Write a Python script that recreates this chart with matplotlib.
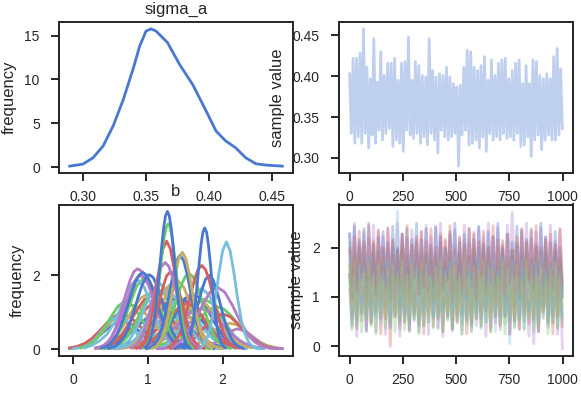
import numpy as np
import matplotlib
matplotlib.use("Agg")
import matplotlib.pyplot as plt

plt.rcParams['font.family'] = ['Liberation Sans', 'DejaVu Sans']
plt.rcParams['text.color'] = '0.15'
plt.rcParams['axes.labelcolor'] = '0.15'
plt.rcParams['xtick.color'] = '0.15'
plt.rcParams['ytick.color'] = '0.15'

BLUE, GREEN, RED, PURPLE, YELLOW, CYAN = "#4878CF", "#6ACC65", "#D65F5F", "#B47CC7", "#C4AD66", "#77BEDB"

# ---------------- sigma_a ----------------
sigma_a_kde_x = [0.2895, 0.300, 0.308, 0.316, 0.324, 0.332, 0.340, 0.345, 0.350, 0.354, 0.358,
                 0.367, 0.3766, 0.387, 0.3976, 0.4055, 0.413, 0.421, 0.429, 0.437, 0.445, 0.458]
sigma_a_kde_y = [0.11, 0.34, 1.06, 2.4, 4.7, 7.7, 11.3, 13.8, 15.5, 15.76, 15.5,
                 14.2, 11.7, 9.4, 6.4, 4.1, 3.0, 2.2, 1.06, 0.38, 0.23, 0.11]

sigma_a_trace_hi = [.403, .422, .422, .428, .458, .411, .397, .446, .393, .430, .401, .416, .416, .422,
                    .395, .416, .418, .448, .395, .418, .413, .401, .399, .446, .407, .399, .403, .401,
                    .411, .399, .391, .387, .389, .411, .432, .430, .411, .407, .413, .424, .395, .420,
                    .401, .416, .420, .422, .397, .407, .416, .420, .391, .413, .391, .420, .418, .401,
                    .397, .403, .397, .424, .434, .409]
sigma_a_trace_lo = [.330, .318, .326, .318, .330, .312, .328, .318, .334, .322, .330, .336, .314, .322,
                    .318, .308, .334, .328, .324, .330, .318, .326, .316, .330, .322, .306, .334, .326,
                    .322, .326, .330, .290, .328, .334, .316, .318, .322, .312, .326, .308, .330, .322,
                    .326, .322, .330, .324, .326, .322, .330, .314, .316, .326, .302, .322, .328, .310,
                    .322, .328, .322, .322, .328, .336]

sigma_a_xticks = [0.30, 0.35, 0.40, 0.45]
sigma_a_yticks = [0, 5, 10, 15]
trace_xticks = [0, 250, 500, 750, 1000]
sigma_a_trace_yticks = [0.30, 0.35, 0.40, 0.45]
n_samples = 1000

# ---------------- b : KDE curves (drawn in this order) ----------------
b_kde_colors = [PURPLE, CYAN, BLUE, PURPLE, YELLOW, BLUE, RED, CYAN, YELLOW, RED,
                RED, YELLOW, GREEN, BLUE, CYAN, PURPLE,
                GREEN, RED, GREEN, CYAN, YELLOW, BLUE, GREEN, CYAN, YELLOW, PURPLE, RED, GREEN, CYAN,
                YELLOW, RED, CYAN, PURPLE, PURPLE, BLUE, BLUE, GREEN, RED, PURPLE, BLUE, RED, BLUE,
                YELLOW, CYAN, BLUE, PURPLE, RED, GREEN, BLUE]
b_kde_start = [0.35, 0.55, 0.3, 0.5, 1.4, -0.05, 0.68, 0.58, -0.02, -0.05,
               0.35, 0.3, 1.05, 0.6, 0.0, 1.6,
               0.1, 0.35, 0.42, 0.55, 0.6, 0.9, 1.12, 1.12, 0.98, 0.9, 1.3, 0.35, 0.55,
               0.78, 0.82, 0.15, 0.31, 0.3, 0.38, 0.47, 1.0, 0.85, 1.13, 1.37, 1.27, 0.98,
               1.06, 1.65, 1.485, 0.78, 0.85, 0.945, 0.96]
b_kde_step = [0.1, 0.1, 0.1, 0.1, 0.1, 0.1, 0.1, 0.1, 0.1, 0.1,
              0.1, 0.1, 0.1, 0.1, 0.1, 0.1,
              0.1, 0.1, 0.1, 0.1, 0.1, 0.1, 0.1, 0.1, 0.1, 0.1, 0.1, 0.1, 0.1,
              0.1, 0.1, 0.1, 0.05, 0.05, 0.05, 0.05, 0.05, 0.05, 0.1, 0.05, 0.05, 0.05,
              0.05, 0.05, 0.025, 0.05, 0.05, 0.025, 0.025]
b_kde_values = [
    [0.02, 0.03, 0.06, 0.10, 0.16, 0.24, 0.34, 0.46, 0.57, 0.66, 0.73, 0.75, 0.73, 0.66, 0.57, 0.46, 0.34, 0.24, 0.16, 0.10, 0.06, 0.03, 0.02],
    [0.01, 0.03, 0.06, 0.11, 0.20, 0.31, 0.44, 0.59, 0.72, 0.82, 0.85, 0.82, 0.72, 0.59, 0.44, 0.31, 0.20, 0.11, 0.06, 0.03, 0.01],
    [0.03, 0.06, 0.11, 0.20, 0.33, 0.50, 0.69, 0.87, 1.0, 1.05, 1.0, 0.87, 0.69, 0.50, 0.33, 0.20, 0.11, 0.06, 0.03],
    [0.02, 0.04, 0.09, 0.17, 0.30, 0.46, 0.65, 0.82, 0.95, 1.0, 0.95, 0.82, 0.65, 0.46, 0.30, 0.17, 0.09, 0.04, 0.02],
    [0.01, 0.04, 0.09, 0.19, 0.34, 0.51, 0.65, 0.7, 0.65, 0.51, 0.34, 0.19, 0.09, 0.04, 0.01],
    [0.02, 0.05, 0.10, 0.21, 0.37, 0.54, 0.69, 0.75, 0.69, 0.54, 0.37, 0.21, 0.10, 0.05, 0.02],
    [0.03, 0.07, 0.15, 0.27, 0.45, 0.67, 0.88, 1.04, 1.10, 1.04, 0.88, 0.67, 0.45, 0.27, 0.15, 0.07, 0.03],
    [0.02, 0.06, 0.13, 0.26, 0.47, 0.73, 1.01, 1.22, 1.30, 1.22, 1.01, 0.73, 0.47, 0.26, 0.13, 0.06, 0.02],
    [0.02, 0.05, 0.12, 0.24, 0.43, 0.68, 0.93, 1.13, 1.20, 1.13, 0.93, 0.68, 0.43, 0.24, 0.12, 0.05, 0.02],
    [0.03, 0.07, 0.15, 0.29, 0.49, 0.71, 0.88, 0.95, 0.88, 0.71, 0.49, 0.29, 0.15, 0.07, 0.03],
    [0.04, 0.09, 0.18, 0.32, 0.53, 0.79, 1.04, 1.23, 1.3, 1.23, 1.04, 0.79, 0.53, 0.32, 0.18, 0.09, 0.04],
    [0.03, 0.08, 0.20, 0.42, 0.73, 1.09, 1.38, 1.5, 1.38, 1.09, 0.73, 0.42, 0.20, 0.08, 0.03],
    [0.03, 0.08, 0.18, 0.38, 0.66, 0.98, 1.25, 1.35, 1.25, 0.98, 0.66, 0.38, 0.18, 0.08, 0.03],
    [0.04, 0.09, 0.19, 0.35, 0.58, 0.85, 1.12, 1.32, 1.4, 1.32, 1.12, 0.85, 0.58, 0.35, 0.19, 0.09, 0.04],
    [0.01, 0.04, 0.12, 0.29, 0.55, 0.79, 0.9, 0.79, 0.55, 0.29, 0.12, 0.04, 0.01],
    [0.01, 0.03, 0.07, 0.17, 0.33, 0.48, 0.55, 0.48, 0.33, 0.17, 0.07, 0.03, 0.01],
    [0.03, 0.10, 0.25, 0.51, 0.86, 1.17, 1.3, 1.17, 0.86, 0.51, 0.25, 0.10, 0.03],
    [0.03, 0.08, 0.20, 0.40, 0.71, 1.05, 1.34, 1.45, 1.34, 1.05, 0.71, 0.40, 0.20, 0.08, 0.03],
    [0.01, 0.04, 0.12, 0.32, 0.65, 1.09, 1.49, 1.65, 1.49, 1.09, 0.65, 0.32, 0.12, 0.04, 0.01],
    [0.02, 0.08, 0.24, 0.59, 1.09, 1.59, 1.8, 1.59, 1.09, 0.59, 0.24, 0.08, 0.02],
    [0.01, 0.04, 0.13, 0.34, 0.69, 1.16, 1.58, 1.75, 1.58, 1.16, 0.69, 0.34, 0.13, 0.04, 0.01],
    [0.02, 0.07, 0.17, 0.37, 0.69, 1.06, 1.38, 1.50, 1.38, 1.06, 0.69, 0.37, 0.17, 0.07, 0.02],
    [0.02, 0.05, 0.12, 0.23, 0.41, 0.65, 0.89, 1.08, 1.15, 1.08, 0.89, 0.65, 0.41, 0.23, 0.12, 0.05, 0.02],
    [0.02, 0.07, 0.22, 0.54, 1.0, 1.46, 1.65, 1.46, 1.0, 0.54, 0.22, 0.07, 0.02],
    [0.04, 0.09, 0.20, 0.40, 0.67, 0.97, 1.21, 1.30, 1.21, 0.97, 0.67, 0.40, 0.20, 0.09, 0.04],
    [0.03, 0.07, 0.15, 0.27, 0.45, 0.67, 0.88, 1.04, 1.10, 1.04, 0.88, 0.67, 0.45, 0.27, 0.15, 0.07, 0.03],
    [0.02, 0.05, 0.13, 0.26, 0.46, 0.69, 0.88, 0.95, 0.88, 0.69, 0.46, 0.26, 0.13, 0.05, 0.02],
    [0.02, 0.09, 0.26, 0.63, 1.18, 1.72, 1.95, 1.72, 1.18, 0.63, 0.26, 0.09, 0.02],
    [0.01, 0.04, 0.12, 0.31, 0.63, 1.06, 1.44, 1.6, 1.44, 1.06, 0.63, 0.31, 0.12, 0.04, 0.01],
    [0.02, 0.08, 0.26, 0.62, 1.15, 1.68, 1.9, 1.68, 1.15, 0.62, 0.26, 0.08, 0.02],
    [0.03, 0.07, 0.17, 0.35, 0.61, 0.91, 1.15, 1.25, 1.15, 0.91, 0.61, 0.35, 0.17, 0.07, 0.03],
    [0.03, 0.10, 0.22, 0.40, 0.72, 1.20, 1.68, 1.90, 1.68, 1.15, 0.62, 0.26, 0.08, 0.02],
    [0.02, 0.05, 0.10, 0.19, 0.33, 0.54, 0.83, 1.18, 1.54, 1.87, 2.10, 2.18, 2.12, 2.00, 1.85, 1.60, 1.25, 0.90, 0.60, 0.35, 0.18, 0.08, 0.03],
    [0.02, 0.05, 0.09, 0.17, 0.27, 0.45, 0.65, 0.93, 1.21, 1.50, 1.76, 1.93, 2.0, 1.93, 1.76, 1.50, 1.21, 0.93, 0.65, 0.45, 0.27, 0.17, 0.09, 0.05, 0.02],
    [0.03, 0.06, 0.12, 0.23, 0.38, 0.60, 0.88, 1.20, 1.52, 1.81, 2.01, 2.08, 2.01, 1.81, 1.52, 1.20, 0.88, 0.60, 0.38, 0.23, 0.12, 0.06, 0.03],
    [0.02, 0.04, 0.09, 0.17, 0.31, 0.50, 0.77, 1.09, 1.43, 1.73, 1.94, 2.02, 1.94, 1.73, 1.43, 1.09, 0.77, 0.50, 0.31, 0.17, 0.09, 0.04, 0.02],
    [0.02, 0.04, 0.09, 0.17, 0.31, 0.51, 0.78, 1.11, 1.45, 1.76, 1.97, 2.05, 1.97, 1.76, 1.45, 1.11, 0.78, 0.51, 0.31, 0.17, 0.09, 0.04, 0.02],
    [0.02, 0.06, 0.14, 0.28, 0.52, 0.86, 1.27, 1.68, 1.99, 2.1, 1.99, 1.68, 1.27, 0.86, 0.52, 0.28, 0.14, 0.06, 0.02],
    [0.01, 0.02, 0.07, 0.19, 0.42, 0.77, 1.19, 1.54, 1.68, 1.54, 1.19, 0.77, 0.42, 0.19, 0.07, 0.02, 0.01],
    [0.02, 0.06, 0.13, 0.27, 0.50, 0.82, 1.21, 1.60, 1.89, 2.0, 1.89, 1.60, 1.21, 0.82, 0.50, 0.27, 0.13, 0.06, 0.02],
    [0.04, 0.10, 0.21, 0.39, 0.67, 1.04, 1.46, 1.87, 2.16, 2.27, 2.16, 1.87, 1.46, 1.04, 0.67, 0.39, 0.21, 0.10, 0.04],
    [0.01, 0.04, 0.11, 0.26, 0.52, 0.92, 1.44, 1.98, 2.39, 2.55, 2.39, 1.98, 1.44, 0.92, 0.52, 0.26, 0.11, 0.04, 0.01],
    [0.02, 0.07, 0.18, 0.41, 0.80, 1.35, 1.96, 2.44, 2.63, 2.44, 1.96, 1.35, 0.80, 0.41, 0.18, 0.07, 0.02],
    [0.01, 0.04, 0.13, 0.33, 0.72, 1.33, 2.06, 2.67, 2.91, 2.67, 2.08, 1.38, 0.78, 0.40, 0.18, 0.08, 0.03, 0.01],
    [0.03, 0.07, 0.14, 0.28, 0.50, 0.82, 1.25, 1.78, 2.33, 2.82, 3.17, 3.29, 3.17, 2.82, 2.33, 1.78, 1.25, 0.82, 0.50, 0.28, 0.14, 0.07, 0.03],
    [0.04, 0.10, 0.21, 0.40, 0.69, 1.08, 1.52, 1.93, 2.24, 2.35, 2.24, 1.93, 1.52, 1.08, 0.69, 0.40, 0.21, 0.10, 0.04],
    [0.03, 0.08, 0.20, 0.46, 0.90, 1.51, 2.18, 2.72, 2.93, 2.72, 2.18, 1.51, 0.90, 0.46, 0.20, 0.08, 0.03],
    [0.04, 0.08, 0.15, 0.26, 0.42, 0.65, 0.96, 1.34, 1.78, 2.25, 2.70, 3.07, 3.31, 3.40, 3.31, 3.07, 2.70, 2.25, 1.78, 1.34, 0.96, 0.65, 0.42, 0.26, 0.15, 0.08, 0.04],
    [0.04, 0.09, 0.16, 0.30, 0.50, 0.81, 1.22, 1.71, 2.27, 2.82, 3.30, 3.62, 3.74, 3.62, 3.30, 2.82, 2.27, 1.71, 1.22, 0.81, 0.50, 0.30, 0.16, 0.09, 0.04],
]
b_kde_xticks = [0, 1, 2]
b_kde_yticks = [0, 2]

# ---------------- b : traces, per chain: high and low readings of each stretch ----------------
b_trace_colors = [BLUE, GREEN, RED, PURPLE, YELLOW, CYAN, BLUE, PURPLE, RED, GREEN, CYAN, YELLOW]
b_trace_hi = [
    [1.46, 1.57, 1.41, 1.59, 1.49, 1.38, 1.54, 1.62, 1.43, 1.51, 1.57, 1.46, 1.59, 1.41, 1.54, 1.49, 1.62, 1.38, 1.51, 1.43, 1.59, 1.54, 1.46, 1.57, 1.41, 1.62, 1.49, 1.43, 1.54, 1.38, 1.51, 1.59, 1.46, 1.57, 1.62, 1.41, 1.49, 1.54, 1.43, 1.59, 1.38, 1.51, 1.57, 1.46, 1.62],
    [1.60, 1.87, 2.00, 1.69, 1.82, 1.91, 1.73, 1.96, 1.64, 1.87, 1.78, 2.00, 1.60, 1.82, 1.69, 1.96, 1.87, 1.73, 1.91, 1.64, 2.00, 1.78, 1.69, 1.87, 1.60, 1.82, 1.96, 1.73, 1.91, 2.00, 1.64, 1.78, 1.87, 1.69, 1.96, 1.60, 1.82, 1.91, 1.73, 2.00, 1.73, 1.91, 1.64, 1.96, 1.78],
    [1.46, 1.28, 1.51, 1.19, 1.42, 1.33, 1.55, 1.15, 1.37, 1.24, 1.51, 1.42, 1.28, 1.46, 1.19, 1.55, 1.33, 1.24, 1.42, 1.15, 1.37, 1.51, 1.28, 1.46, 1.55, 1.19, 1.33, 1.42, 1.24, 1.51, 1.15, 1.37, 1.46, 1.28, 1.55, 1.28, 1.46, 1.19, 1.51, 1.33, 1.15, 1.42, 1.55, 1.24, 1.37],
    [2.28, 2.50, 2.10, 2.32, 2.19, 2.46, 2.37, 2.23, 2.41, 2.14, 2.50, 2.28, 2.19, 2.37, 2.10, 2.32, 2.46, 2.23, 2.41, 2.50, 2.14, 2.28, 2.37, 2.19, 2.46, 2.10, 2.32, 2.41, 2.23, 2.50, 2.23, 2.41, 2.14, 2.46, 2.72, 2.10, 2.37, 2.50, 2.19, 2.32, 2.41, 2.23, 2.46, 2.14, 2.37],
    [2.10, 2.00, 1.85, 2.05, 1.75, 2.15, 1.90, 1.80, 2.00, 1.70, 1.95, 2.10, 1.85, 2.05, 2.15, 1.75, 1.90, 2.00, 1.80, 2.10, 1.70, 1.95, 2.05, 1.85, 2.15, 1.85, 2.05, 1.75, 2.10, 1.90, 1.70, 2.00, 2.15, 1.80, 1.95, 2.05, 1.85, 2.10, 1.75, 2.00, 1.90, 2.15, 1.70, 1.95, 1.80],
    [2.00, 1.72, 1.61, 1.83, 1.50, 1.78, 1.94, 1.67, 1.89, 2.00, 2.74, 1.72, 1.83, 1.61, 1.94, 1.50, 1.78, 1.89, 1.67, 2.00, 1.67, 1.89, 1.56, 1.94, 1.72, 1.50, 1.83, 2.00, 1.61, 1.78, 1.89, 1.67, 1.94, 1.56, 1.83, 1.72, 2.00, 1.50, 1.78, 1.61, 1.94, 1.83, 1.67, 1.89, 1.56],
    [2.28, 2.44, 2.17, 2.39, 2.50, 2.06, 2.22, 2.33, 2.11, 2.44, 2.00, 2.28, 2.39, 2.17, 2.50, 2.17, 2.39, 2.06, 2.44, 2.22, 2.00, 2.33, 2.50, 2.11, 2.28, 2.39, 2.17, 2.44, 2.06, 2.33, 2.22, 2.50, 2.00, 2.28, 2.11, 2.44, 2.33, 2.17, 2.39, 2.06, 2.50, 2.22, 2.11, 2.33, 2.00],
    [1.15, 1.30, 1.40, 1.20, 1.50, 1.10, 1.35, 1.45, 1.25, 1.55, 1.25, 1.45, 1.15, 1.50, 1.30, 1.10, 1.40, 1.55, 1.20, 1.35, 1.45, 1.25, 1.50, 1.15, 1.40, 1.30, 1.55, 1.10, 1.35, 1.20, 1.50, 1.40, 1.25, 1.45, 1.15, 1.55, 1.30, 1.20, 1.40, 1.10, 1.35, 1.50, 1.25, 1.45, 1.55],
    [1.95, 2.23, 2.34, 2.12, 2.45, 2.12, 2.34, 2.01, 2.39, 2.17, 1.95, 2.28, 2.45, 2.06, 2.23, 2.34, 2.12, 2.39, 2.01, 2.28, 2.17, 2.45, 1.95, 2.23, 2.06, 2.39, 2.28, 2.12, 2.34, 2.01, 2.45, 2.17, 2.06, 2.28, 1.95, 2.23, 2.39, 2.12, 2.34, 2.45, 2.01, 2.17, 2.28, 2.06, 2.39],
    [1.41, 1.23, 1.05, 1.32, 1.45, 1.14, 1.27, 1.36, 1.18, 1.41, 1.09, 1.32, 1.23, 1.45, 1.05, 1.27, 1.14, 1.41, 1.32, 1.18, 1.36, 1.09, 1.45, 1.23, 1.14, 1.32, 1.05, 1.27, 1.41, 1.18, 1.36, 1.45, 1.09, 1.23, 1.32, 1.14, 1.41, 1.05, 1.27, 1.36, 1.18, 1.45, 1.18, 1.36, 1.09],
    [1.76, 1.44, 1.67, 1.58, 1.80, 1.40, 1.62, 1.49, 1.76, 1.67, 1.53, 1.71, 1.44, 1.80, 1.58, 1.49, 1.67, 1.40, 1.62, 1.76, 1.53, 1.71, 1.80, 1.44, 1.58, 1.67, 1.49, 1.76, 1.40, 1.62, 1.71, 1.53, 1.80, 1.53, 1.71, 1.44, 1.76, 1.58, 1.40, 1.67, 1.80, 1.49, 1.62, 1.71, 1.53],
    [1.65, 1.75, 1.35, 1.50, 1.60, 1.40, 1.70, 1.30, 1.55, 1.65, 1.45, 1.75, 1.45, 1.65, 1.35, 1.70, 1.50, 1.30, 1.60, 1.75, 1.40, 1.55, 1.65, 1.45, 1.70, 1.35, 1.60, 1.50, 1.75, 1.30, 1.55, 1.40, 1.70, 1.60, 1.45, 1.65, 1.35, 1.75, 1.50, 1.40, 1.60, 1.30, 1.55, 1.70, 1.45],
]
b_trace_lo = [
    [0.99, 1.09, 0.92, 1.04, 0.97, 1.12, 1.02, 1.07, 0.94, 1.14, 1.04, 0.92, 1.09, 0.99, 1.07, 0.97, 1.12, 0.94, 1.02, 1.14, 0.92, 1.07, 0.99, 1.09, 0.97, 1.04, 0.94, 1.12, 1.02, 0.92, 1.14, 0.99, 1.07, 0.94, 1.09, 0.97, 1.04, 1.12, 0.92, 1.02, 1.07, 0.99, 1.14, 0.94, 1.09],
    [1.07, 0.84, 1.20, 1.02, 0.80, 1.11, 0.93, 1.07, 0.89, 1.16, 0.84, 0.98, 1.20, 0.80, 1.07, 0.93, 1.11, 0.89, 1.02, 0.84, 1.16, 0.98, 0.80, 1.20, 0.93, 1.07, 0.84, 1.11, 0.89, 1.02, 1.16, 0.80, 0.98, 1.07, 0.93, 1.20, 0.84, 1.11, 0.93, 1.11, 0.80, 1.02, 0.89, 1.16, 0.98],
    [0.55, 0.35, 0.65, 0.30, 0.45, 0.70, 0.25, 0.55, 0.00, 0.60, 0.35, 0.50, 0.30, 0.65, 0.45, 0.25, 0.70, 0.40, 0.55, 0.30, 0.60, 0.35, 0.50, 0.65, 0.25, 0.45, 0.55, 0.40, 0.70, 0.30, 0.60, 0.40, 0.60, 0.25, 0.50, 0.35, 0.65, 0.45, 0.55, 0.30, 0.70, 0.50, 0.25, 0.60, 0.40],
    [1.47, 1.33, 1.51, 1.29, 1.42, 1.24, 1.56, 1.38, 1.20, 1.60, 1.33, 1.47, 1.24, 1.51, 1.29, 1.42, 1.56, 1.20, 1.38, 1.47, 1.33, 1.60, 1.24, 1.51, 1.33, 1.51, 1.20, 1.42, 1.29, 1.56, 1.38, 1.47, 1.24, 1.60, 1.42, 1.20, 1.51, 1.33, 1.47, 1.29, 1.56, 1.24, 1.38, 1.60, 1.20],
    [0.95, 0.75, 1.20, 0.90, 1.05, 0.80, 1.10, 0.85, 1.00, 1.15, 0.75, 0.95, 1.05, 0.90, 1.20, 0.80, 1.10, 0.90, 1.10, 0.75, 1.00, 0.85, 1.15, 0.95, 1.05, 0.80, 1.20, 1.00, 0.75, 1.10, 0.90, 1.05, 0.85, 1.15, 0.80, 0.95, 1.20, 0.75, 1.05, 0.90, 1.10, 0.85, 1.00, 0.80, 1.15],
    [0.40, 0.55, 0.70, 0.30, 0.50, 0.60, 0.45, 0.75, 0.35, 0.65, 0.45, 0.65, 0.30, 0.55, 0.40, 0.70, 0.50, 0.60, 0.35, 0.75, 0.55, 0.30, 0.65, 0.45, 0.60, 0.40, 0.70, 0.35, 0.50, 0.75, 0.30, 0.60, 0.45, 0.05, 0.40, 0.55, 0.35, 0.70, 0.50, 0.30, 0.75, 0.45, 0.60, 0.35, 0.65],
    [1.25, 1.10, 1.40, 1.20, 1.30, 1.05, 1.45, 1.25, 1.00, 1.35, 1.15, 1.30, 1.10, 1.40, 1.05, 1.20, 1.45, 1.00, 1.30, 1.15, 1.35, 1.10, 1.25, 1.05, 1.40, 1.20, 1.00, 1.45, 1.15, 1.30, 1.05, 1.35, 1.10, 1.25, 1.40, 1.00, 1.20, 1.30, 1.15, 1.45, 1.05, 1.35, 1.15, 1.35, 1.00],
    [0.42, 0.20, 0.51, 0.33, 0.47, 0.29, 0.56, 0.24, 0.38, 0.60, 0.20, 0.47, 0.33, 0.51, 0.29, 0.42, 0.24, 0.56, 0.38, 0.20, 0.60, 0.33, 0.47, 0.24, 0.51, 0.29, 0.42, 0.56, 0.20, 0.38, 0.47, 0.33, 0.60, 0.24, 0.51, 0.33, 0.51, 0.20, 0.05, 0.29, 0.56, 0.38, 0.47, 0.24, -0.05],
    [0.95, 1.10, 1.35, 0.90, 1.20, 1.05, 1.25, 1.00, 1.15, 0.95, 1.30, 1.10, 0.90, 1.35, 1.05, 1.20, 0.95, 1.25, 1.00, 1.15, 1.30, 0.90, 1.10, 1.20, 1.05, 1.35, 0.95, 1.25, 1.05, 1.25, 0.90, 1.15, 1.00, 1.30, 1.10, 1.20, 0.95, 1.35, 1.15, 0.90, 1.25, 1.05, 1.20, 1.00, 1.30],
    [0.33, 0.44, 0.29, 0.56, 0.41, 0.25, 0.60, 0.37, 0.48, 0.29, 0.52, 0.33, 0.44, 0.56, 0.25, 0.41, 0.48, 0.37, 0.60, 0.29, 0.52, 0.37, 0.52, 0.25, 0.44, 0.33, 0.56, 0.41, 0.48, 0.29, 0.60, 0.44, 0.25, 0.52, 0.37, 0.48, 0.33, 0.56, 0.29, 0.41, 0.60, 0.25, 0.48, 0.37, 0.52],
    [1.00, 0.73, 0.87, 0.64, 0.91, 0.69, 0.82, 0.96, 0.60, 0.78, 0.87, 0.73, 1.00, 0.64, 0.91, 0.73, 0.91, 0.60, 0.82, 0.69, 0.96, 0.78, 0.87, 0.64, 1.00, 0.82, 0.60, 0.91, 0.73, 0.87, 0.69, 0.96, 0.64, 0.78, 1.00, 0.60, 0.87, 0.73, 0.91, 0.69, 0.82, 0.64, 0.96, 0.78, 0.60],
    [0.90, 0.75, 1.05, 0.65, 0.95, 0.75, 0.95, 0.60, 0.85, 0.70, 1.00, 0.80, 0.90, 0.65, 1.05, 0.85, 0.60, 0.95, 0.75, 0.90, 0.70, 1.00, 0.65, 0.80, 1.05, 0.60, 0.90, 0.75, 0.95, 0.70, 0.85, 0.65, 1.00, 0.80, 0.60, 1.05, 0.75, 0.90, 0.65, 0.95, 0.70, 0.85, 1.00, 0.60, 0.80],
]
b_trace_yticks = [0, 1, 2]

# ---------------- figure ----------------
W, H = 581, 396
fig = plt.figure(figsize=(W / 100, H / 100), dpi=100)

def make_ax(l, t, w=234, h=151):
    ax = fig.add_axes([l / W, 1 - (t + h) / H, w / W, h / H])
    for s in ax.spines.values():
        s.set_linewidth(1.4)
        s.set_color('0.15')
    ax.tick_params(direction='out', length=5.8, width=1.4, labelsize=10)
    ax.tick_params(axis='x', pad=6.5)
    ax.tick_params(axis='y', pad=8)
    return ax

ax1 = make_ax(59, 22)
ax2 = make_ax(339, 22)
ax3 = make_ax(59, 204.5)
ax4 = make_ax(339, 204.5)

lw = 2.0
# sigma_a kde
ax1.plot(sigma_a_kde_x, sigma_a_kde_y, color=BLUE, lw=lw)
ax1.set_xticks(sigma_a_xticks)
ax1.set_yticks(sigma_a_yticks)
ax1.set_ylabel('frequency', fontsize=12, labelpad=5.5)
ax1.set_title('sigma_a', fontsize=12)

# sigma_a trace
vals = np.column_stack([sigma_a_trace_hi, sigma_a_trace_lo]).ravel()
ax2.plot(np.linspace(0, n_samples - 1, len(vals)), vals, color=BLUE, alpha=0.35, lw=lw)
ax2.set_xticks(trace_xticks)
ax2.set_yticks(sigma_a_trace_yticks)
ax2.set_ylabel('sample value', fontsize=12, labelpad=5.5)

# b kde
for c, x0, dx, ys in zip(b_kde_colors, b_kde_start, b_kde_step, b_kde_values):
    xs = x0 + dx * np.arange(len(ys))
    ax3.plot(xs, ys, color=c, lw=lw)
ax3.set_xticks(b_kde_xticks)
ax3.set_yticks(b_kde_yticks)
ax3.set_ylabel('frequency', fontsize=12, labelpad=5.5)
ax3.set_title('b', fontsize=12)

# b trace
for c, hi, lo in zip(b_trace_colors, b_trace_hi, b_trace_lo):
    ys = np.column_stack([hi, lo]).ravel()
    ax4.plot(np.linspace(0, n_samples - 1, len(ys)), ys, color=c, alpha=0.35, lw=lw)
ax4.set_xticks(trace_xticks)
ax4.set_yticks(b_trace_yticks)
ax4.set_ylabel('sample value', fontsize=12, labelpad=5.5)

fig.savefig('out.png', dpi=100)
